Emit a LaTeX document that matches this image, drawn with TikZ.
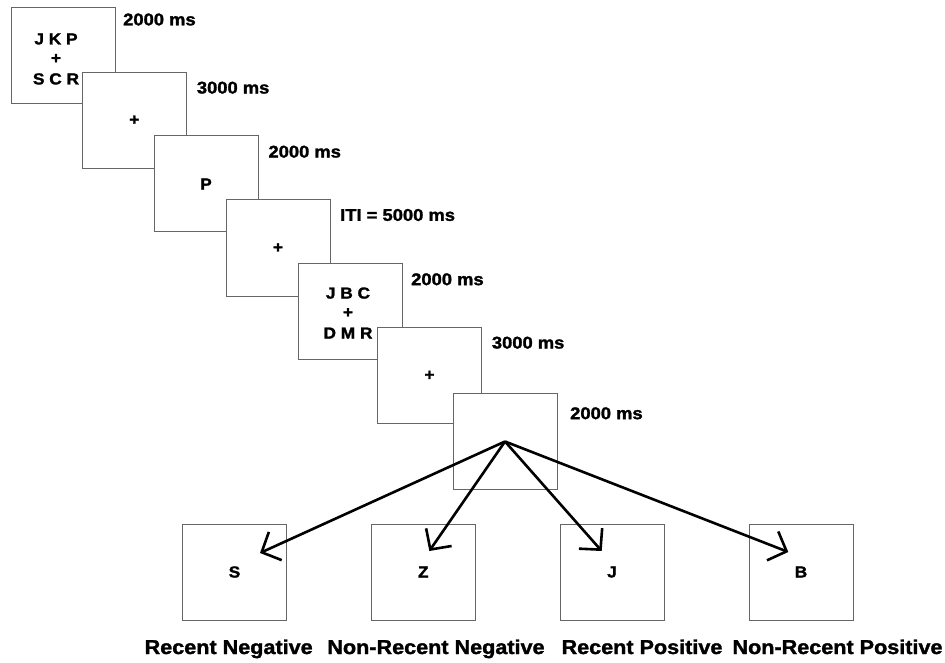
\documentclass[tikz,border=0pt]{standalone}
\usepackage{fontspec}
\setmainfont{Liberation Sans}[BoldFeatures={FakeStretch=1.08,FakeBold=1.6}]
\usetikzlibrary{arrows.meta,calc}
\begin{document}
\begin{tikzpicture}[x=1pt,y=-1pt,
  stimbox/.style={draw=black!60, line width=1pt, fill=white, minimum width=104pt, minimum height=96pt, inner sep=0pt, font=\bfseries\fontsize{16}{20}\selectfont},
  inner/.style={align=center, inner sep=0pt, font=\bfseries\fontsize{16}{20}\selectfont},
  timelab/.style={anchor=west, inner sep=0pt, font=\bfseries\fontsize{17}{20}\selectfont},
  condlab/.style={anchor=base, inner sep=0pt, font=\bfseries\fontsize{20}{24}\selectfont},
  resp/.style={line width=2.6pt, -{Straight Barb[length=15pt,width=31pt]}}]
\useasboundingbox (0,0) rectangle (945,663);
\fill[white] (0,0) rectangle (945,663);
% sequence
\node[stimbox] (b1) at (63,56) {};
\node[inner] (t1) at (56,59) {J K P\\[-1pt]+\\[1pt]S C R};
\node[stimbox] (b2) at (134.3,120.3) {+};
\node[stimbox] (b3) at (206,184) {P};
\node[stimbox] (b4) at (278,248) {+};
\node[stimbox] (b5) at (350,311.5) {};
\node[inner] (t5) at (348,313) {J B C\\[-1pt]+\\[1pt]D M R};
\node[stimbox] (b6) at (429.5,375.5) {+};
\node[stimbox] (b7) at (505,441.5) {};
% durations
\node[timelab] (d1) at (123,19.5) {2000 ms};
\node[timelab] (d2) at (196.7,87.7) {3000 ms};
\node[timelab] (d3) at (268.3,151.7) {2000 ms};
\node[timelab] (d4) at (340,215) {ITI = 5000 ms};
\node[timelab] (d5) at (411,279.3) {2000 ms};
\node[timelab] (d6) at (491.7,342.7) {3000 ms};
\node[timelab] (d7) at (570,413.3) {2000 ms};
% probes
\node[stimbox] (pS) at (234.5,572) {S};
\node[stimbox] (pZ) at (423.3,572) {Z};
\node[stimbox] (pJ) at (612,572) {J};
\node[stimbox] (pB) at (801,572) {B};
\coordinate (tS) at ($(pS.center)+(25.5,-19)$);
\coordinate (tZ) at ($(pZ.center)+(6,-21)$);
\coordinate (tJ) at ($(pJ.center)+(-10.3,-21)$);
\coordinate (tB) at ($(pB.center)+(-12.7,-20)$);
\draw[resp] (b7.center) -- (tS);
\draw[resp] (b7.center) -- (tZ);
\draw[resp] (b7.center) -- (tJ);
\draw[resp] (b7.center) -- (tB);
% condition labels
\node[condlab] (cS) at (228.7,654) {Recent Negative};
\node[condlab] (cZ) at (436,654) {Non-Recent Negative};
\node[condlab] (cJ) at (642,654) {Recent Positive};
\node[condlab] (cB) at (837.5,654) {Non-Recent Positive};
\end{tikzpicture}
\end{document}
